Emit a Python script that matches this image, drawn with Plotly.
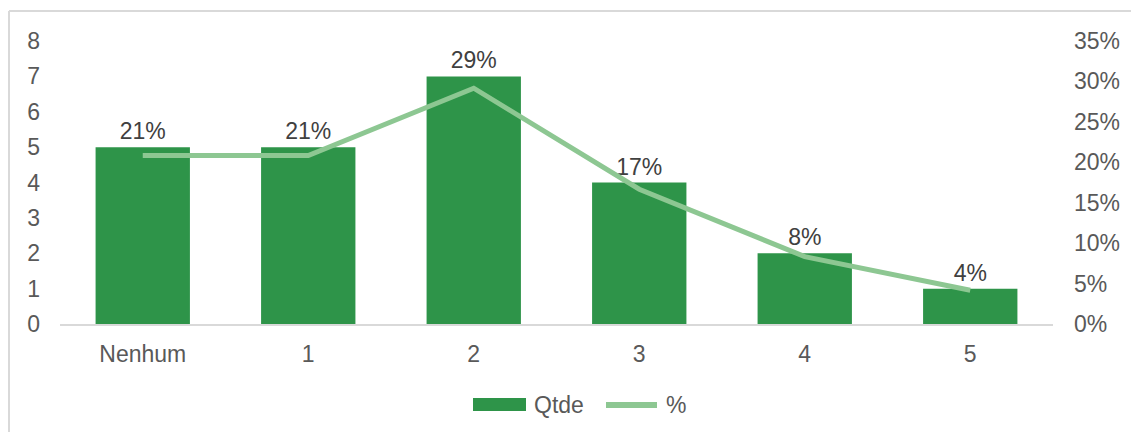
import plotly.graph_objects as go

categories = ["Nenhum", "1", "2", "3", "4", "5"]
qtde = [5, 5, 7, 4, 2, 1]
total = sum(qtde)
pct = [q / total for q in qtde]
pct_labels = [f"{round(p * 100):.0f}%" for p in pct]

left_ticks = list(range(0, 9))
right_ticks = [i / 100 for i in range(0, 40, 5)]
right_tick_labels = [f"{int(round(t * 100))}%" for t in right_ticks]

BAR_COLOR = "#2E9449"
LINE_COLOR = "#8DC792"
TEXT_COLOR = "#404040"
TICK_COLOR = "#595959"
FRAME_COLOR = "#D9D9D9"
FONT = "Liberation Sans, Arial, sans-serif"
FS = 23

fig = go.Figure()
fig.add_trace(go.Bar(
    x=categories, y=qtde, name="Qtde",
    marker=dict(color=BAR_COLOR, line=dict(width=0)),
    width=0.57,
    text=pct_labels, textposition="outside", cliponaxis=False,
    textfont=dict(size=FS, color=TEXT_COLOR, family=FONT),
    showlegend=False,
))
fig.add_trace(go.Scatter(
    x=categories, y=pct, name="%", yaxis="y2", mode="lines",
    line=dict(color=LINE_COLOR, width=5),
    showlegend=False,
))

W, H = 1131, 432
L, R, T, B = 60, 78, 41, 108
pw, ph = W - L - R, H - T - B


def px_x(x):
    return (x - L) / pw


def px_y(y):
    return (H - B - y) / ph


# legend row: swatch + label for each series
LEG_Y = 405
legend_shapes = [
    dict(type="rect", xref="paper", yref="paper",
         x0=px_x(473), x1=px_x(526), y0=px_y(411), y1=px_y(398),
         fillcolor=BAR_COLOR, line=dict(width=0)),
    dict(type="line", xref="paper", yref="paper",
         x0=px_x(606), x1=px_x(657), y0=px_y(LEG_Y), y1=px_y(LEG_Y),
         line=dict(color=LINE_COLOR, width=6)),
]
legend_labels = [
    dict(text="Qtde", x=px_x(532), y=px_y(LEG_Y), xref="paper", yref="paper",
         xanchor="left", yanchor="middle", showarrow=False,
         font=dict(size=FS, color=TICK_COLOR, family=FONT)),
    dict(text="%", x=px_x(664), y=px_y(LEG_Y), xref="paper", yref="paper",
         xanchor="left", yanchor="middle", showarrow=False,
         font=dict(size=FS, color=TICK_COLOR, family=FONT)),
]

frame_shapes = [
    dict(type="line", xref="paper", yref="paper",
         x0=px_x(9), x1=px_x(1140), y0=px_y(11), y1=px_y(11),
         line=dict(color=FRAME_COLOR, width=2)),
    dict(type="line", xref="paper", yref="paper",
         x0=px_x(9), x1=px_x(9), y0=px_y(11), y1=px_y(440),
         line=dict(color=FRAME_COLOR, width=2)),
]

fig.update_layout(
    width=W, height=H,
    margin=dict(l=L, r=R, t=T, b=B),
    paper_bgcolor="white", plot_bgcolor="white",
    font=dict(family=FONT, color=TICK_COLOR, size=FS),
    bargap=0.43,
    xaxis=dict(showgrid=False, showline=True, linecolor=FRAME_COLOR, linewidth=2,
               ticks="", tickfont=dict(size=FS, color=TICK_COLOR), ticklabelstandoff=8),
    yaxis=dict(range=[0, 8], tickvals=left_ticks, showgrid=False, zeroline=False,
               showline=False, ticks="", tickfont=dict(size=FS, color=TICK_COLOR),
               ticklabelstandoff=19),
    yaxis2=dict(range=[0, 0.35], tickvals=right_ticks, ticktext=right_tick_labels,
                overlaying="y", side="right", showgrid=False, zeroline=False,
                showline=False, ticks="", tickfont=dict(size=FS, color=TICK_COLOR),
                ticklabelstandoff=20),
    shapes=frame_shapes + legend_shapes,
    annotations=legend_labels,
)

fig.write_html("out.html")
